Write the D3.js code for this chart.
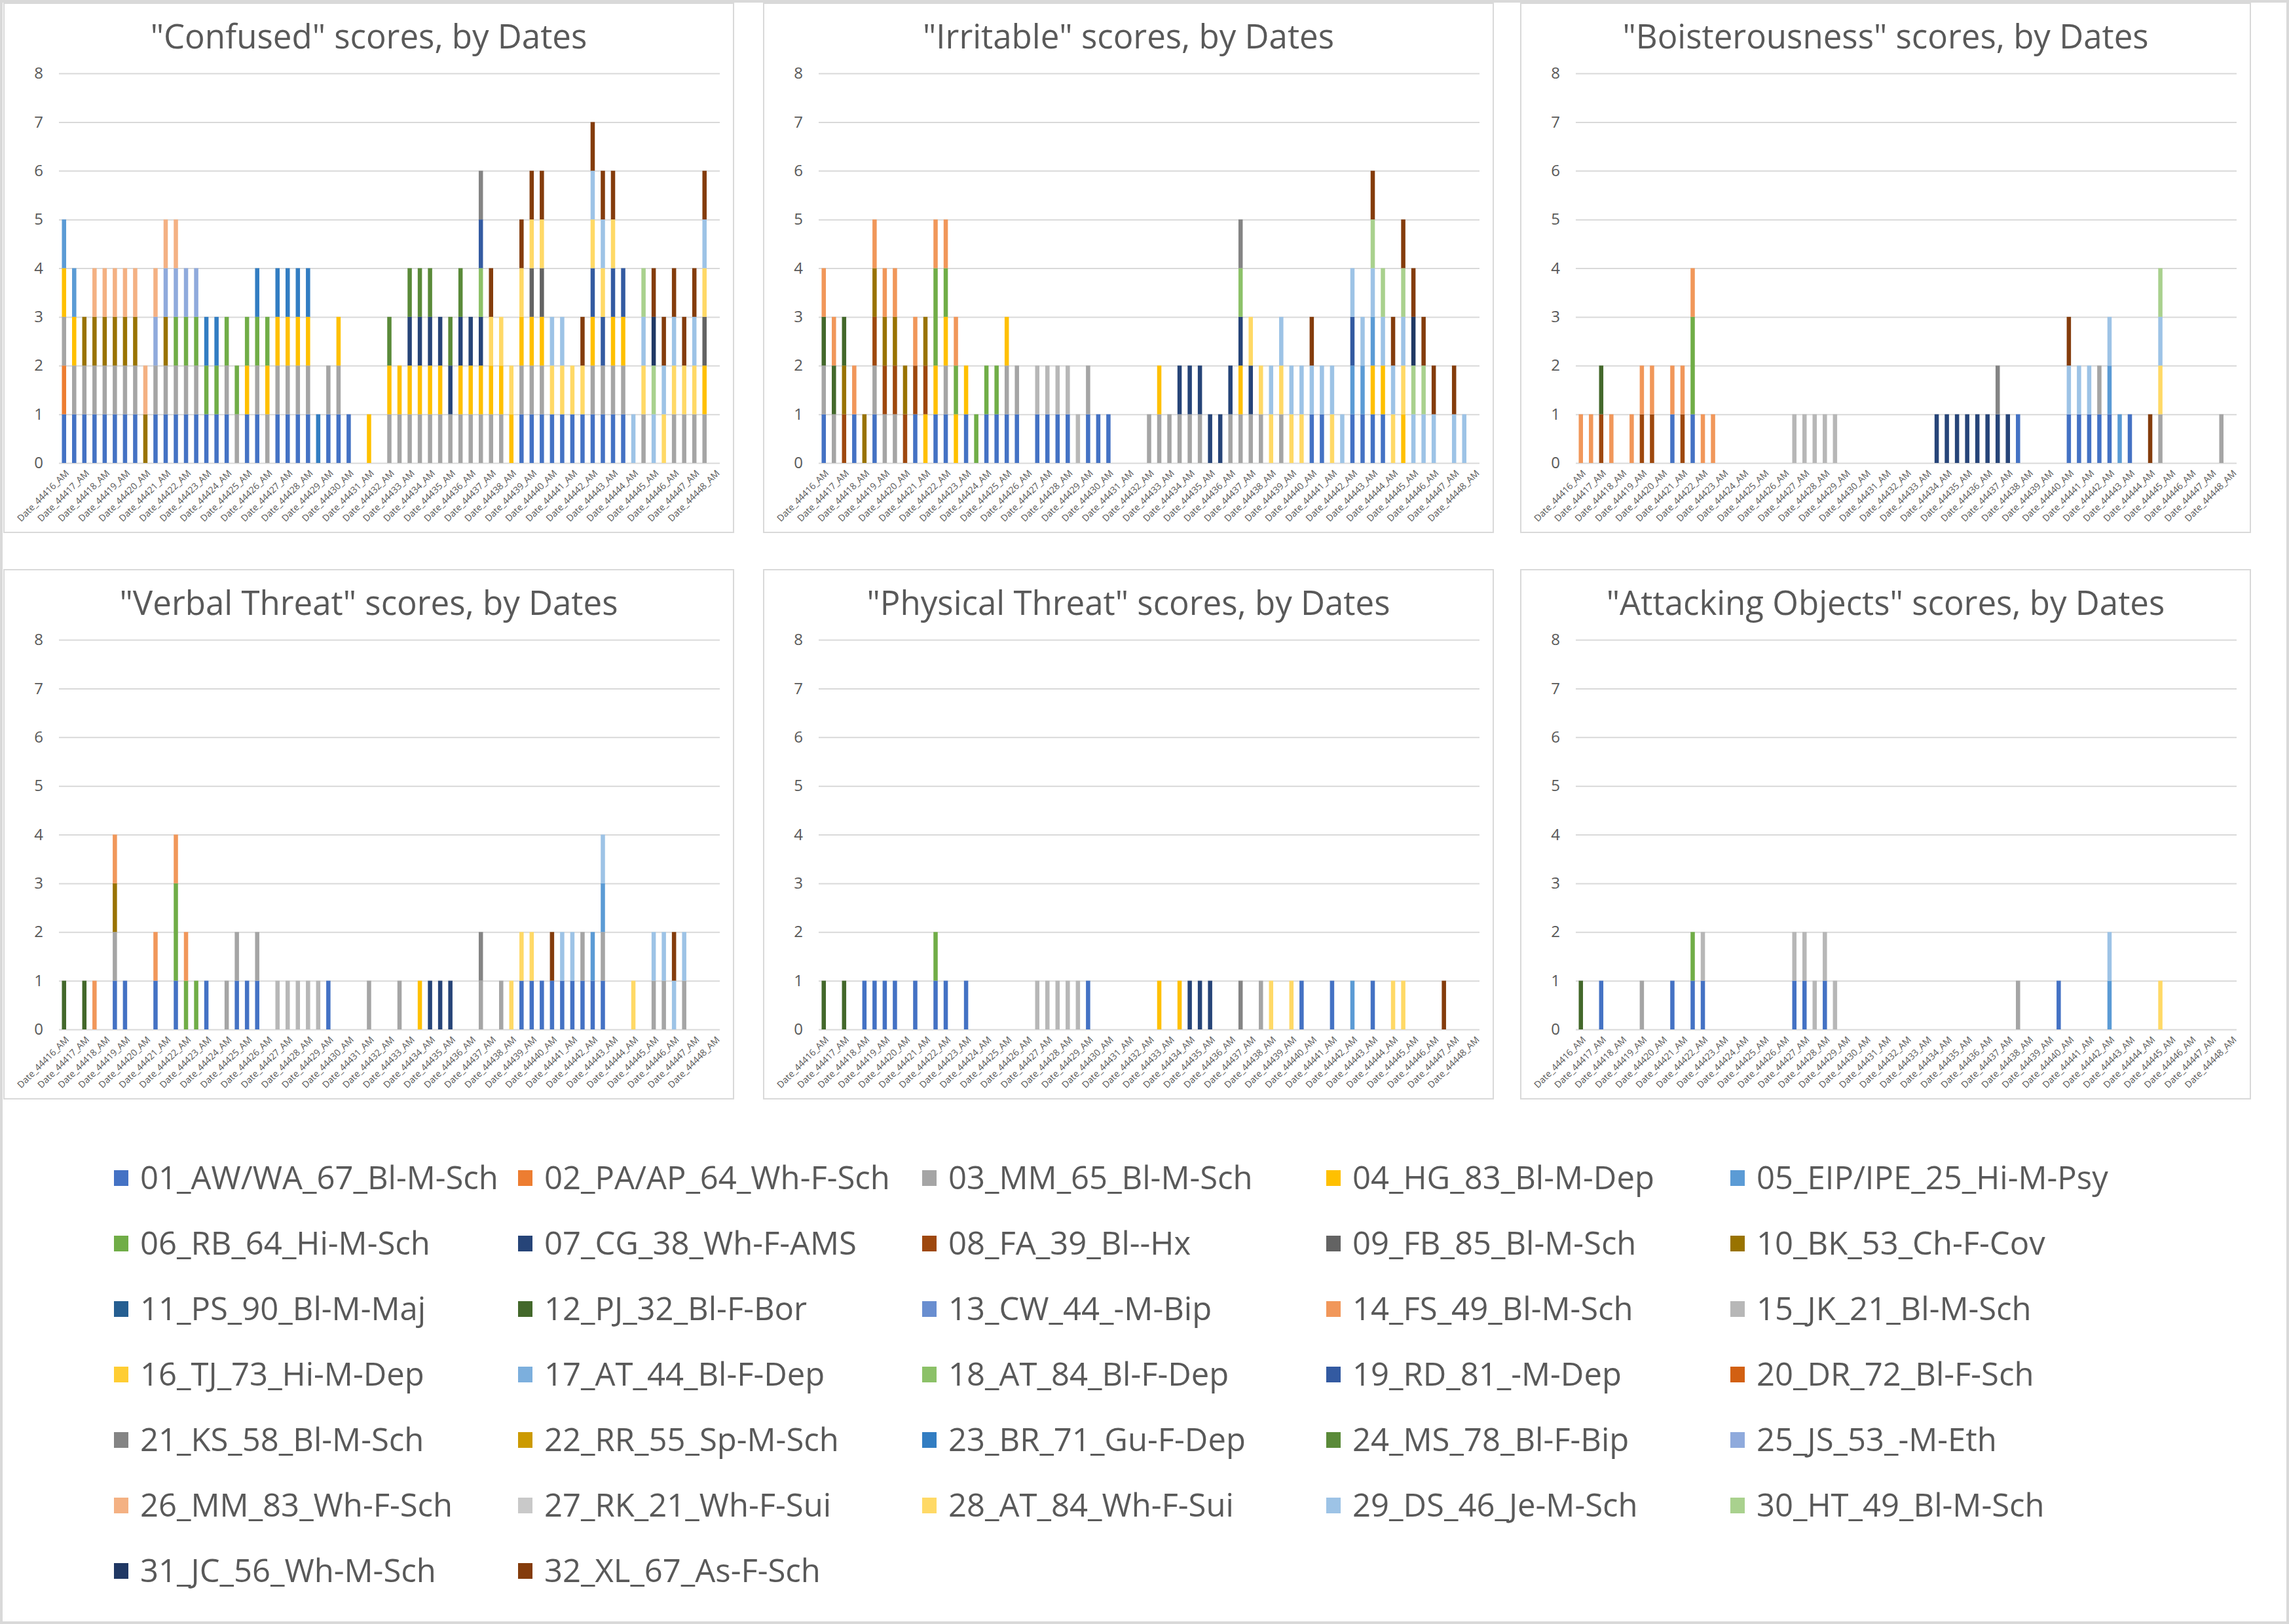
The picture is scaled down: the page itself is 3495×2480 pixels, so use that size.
<!DOCTYPE html>
<html>
<head>
<meta charset="utf-8">
<script src="https://cdn.jsdelivr.net/npm/d3@7"></script>
<style>
  body { margin: 0; background: #ffffff; }
  text { font-family: "Open Sans", "Noto Sans", sans-serif; fill: #595959; }
</style>
</head>
<body>
<div id="graf"></div>
<script>
// Fechas (cada una tiene AM y PM, la última sólo AM)
const fechas = [44416, 44417, 44418, 44419, 44420, 44421, 44422, 44423, 44424, 44425, 44426,
  44427, 44428, 44429, 44430, 44431, 44432, 44433, 44434, 44435, 44436, 44437,
  44438, 44439, 44440, 44441, 44442, 44443, 44444, 44445, 44446, 44447, 44448]

const pacientes = ['01_AW/WA_67_Bl-M-Sch', '02_PA/AP_64_Wh-F-Sch', '03_MM_65_Bl-M-Sch', '04_HG_83_Bl-M-Dep',
  '05_EIP/IPE_25_Hi-M-Psy', '06_RB_64_Hi-M-Sch', '07_CG_38_Wh-F-AMS', '08_FA_39_Bl--Hx', '09_FB_85_Bl-M-Sch',
  '10_BK_53_Ch-F-Cov', '11_PS_90_Bl-M-Maj', '12_PJ_32_Bl-F-Bor', '13_CW_44_-M-Bip', '14_FS_49_Bl-M-Sch',
  '15_JK_21_Bl-M-Sch', '16_TJ_73_Hi-M-Dep', '17_AT_44_Bl-F-Dep', '18_AT_84_Bl-F-Dep', '19_RD_81_-M-Dep',
  '20_DR_72_Bl-F-Sch', '21_KS_58_Bl-M-Sch', '22_RR_55_Sp-M-Sch', '23_BR_71_Gu-F-Dep', '24_MS_78_Bl-F-Bip',
  '25_JS_53_-M-Eth', '26_MM_83_Wh-F-Sch', '27_RK_21_Wh-F-Sui', '28_AT_84_Wh-F-Sui', '29_DS_46_Je-M-Sch',
  '30_HT_49_Bl-M-Sch', '31_JC_56_Wh-M-Sch', '32_XL_67_As-F-Sch']

const colores = ['#4472C4', '#ED7D31', '#A5A5A5', '#FFC000', '#5B9BD5', '#70AD47', '#264478', '#9E480E',
  '#636363', '#997300', '#255E91', '#43682B', '#698ED0', '#F1975A', '#B7B7B7', '#FFCD33',
  '#7CAFDD', '#8CC168', '#335AA1', '#D26012', '#848484', '#CC9A00', '#327DC2', '#5A8A39',
  '#8FAADC', '#F4B183', '#C9C9C9', '#FFD966', '#9DC3E6', '#A9D18E', '#203864', '#843C0C']

const valoresY = [0, 1, 2, 3, 4, 5, 6, 7, 8]

// Cada fecha: lista de pacientes con puntaje 1 (repetido = 2)
const confused = [
  [1,2,3,4,5],[1,3,4,5],[1,3,10],[1,3,10,26],[1,3,10,26],
  [1,3,10,26],[1,3,10,26],[1,3,10,26],[10,26],[1,3,25,26],
  [1,3,10,25,26],[1,3,6,25,26],[1,3,6,25],[1,3,6,25],[1,6,23],
  [1,6,23],[1,3,6],[3,6],[1,4,6],[1,3,6,23],
  [3,4,6],[1,3,4,23],[1,3,4,23],[1,3,4,23],[1,3,4,23],
  [23],[1,3],[1,3,4],[1],[],
  [4],[],[3,4,24],[3,4],[3,4,7,24],
  [3,4,7,24],[3,4,7,24],[3,4,7],[3,7,24],[3,4,7,24],
  [3,4,7],[3,4,7,18,19,21],[3,4,28,32],[3,4,28],[4,28],
  [1,3,4,28,32],[1,3,4,9,28,32],[1,3,4,9,28,32],[1,28,29],[1,28,29],
  [1,28],[1,28,32],[1,3,4,19,28,29,32],[1,3,19,28,29,32],[1,3,4,19,28,32],
  [1,3,4,19],[29],[3,28,29,30],[29,30,31,32],[28,29,32],
  [3,28,29,32],[3,28,32],[3,28,29,32],[3,4,9,28,29,32],[]
]

const irritable = [
  [1,3,12,14],[3,12,14],[8,10,12],[1,14],[10],
  [1,3,8,10,14],[3,8,10,14],[3,8,10,14],[8,10],[1,8,14],
  [4,8,10],[1,4,6,6,14],[1,3,4,6,14],[4,6,14],[1,4],
  [6],[1,6],[1,6],[1,3,4],[1,3],
  [],[1,15],[1,15],[1,15],[1,15],
  [15],[1,3],[1],[1],[],
  [],[],[3],[3,4],[3],
  [3,7],[3,7],[3,7],[7],[7],
  [3,7],[3,4,7,18,21],[3,7,28],[3,28],[28,29],
  [3,28,29],[28,29],[28,29],[1,29,32],[1,29],
  [28,29],[29],[1,5,19,29],[1,5,29],[1,4,5,29,30,32],
  [1,4,29,30],[28,29,32],[4,28,29,30,32],[29,30,31,32],[29,30,32],
  [29,32],[],[29,32],[29],[]
]

const boisterousness = [
  [14],[14],[8,12],[14],[],
  [14],[8,14],[8,14],[],[1,14],
  [8,14],[1,6,6,14],[14],[14],[],
  [],[],[],[],[],
  [],[15],[15],[15],[15],
  [15],[],[],[],[],
  [],[],[],[],[],
  [7],[7],[7],[7],[7],
  [7],[7,21],[7],[1],[],
  [],[],[],[1,29,32],[1,29],
  [1,29],[1,3],[1,5,29],[5],[1],
  [],[32],[3,28,29,30],[],[],
  [],[],[],[3],[]
]

const verbalThreat = [
  [12],[],[12],[14],[],
  [1,3,10,14],[1],[],[],[1,14],
  [],[1,6,6,14],[6,14],[6],[1],
  [],[3],[1,3],[1],[1,3],
  [],[15],[15],[15],[15],
  [15],[1],[],[],[],
  [3],[],[],[3],[],
  [4],[7],[7],[7],[],
  [],[3,21],[],[3],[28],
  [1,28],[1,28],[1],[1,32],[1,29],
  [1,29],[1,3],[1,5],[1,3,5,29],[],
  [],[28],[],[3,29],[3,29],
  [29,32],[3,29],[],[],[]
]

const physicalThreat = [
  [12],[],[12],[],[1],
  [1],[1],[1],[],[1],
  [],[1,6],[1],[],[1],
  [],[],[],[],[],
  [],[15],[15],[15],[15],
  [15],[1],[],[],[],
  [],[],[],[4],[],
  [4],[7],[7],[7],[],
  [],[21],[],[3],[28],
  [],[28],[1],[],[],
  [1],[],[5],[],[1],
  [],[28],[28],[],[],
  [],[32],[],[],[]
]

const attackingObjects = [
  [12],[],[1],[],[],
  [],[3],[],[],[1],
  [],[1,6],[1,15],[],[],
  [],[],[],[],[],
  [],[1,15],[1,15],[15],[1,15],
  [15],[],[],[],[],
  [],[],[],[],[],
  [],[],[],[],[],
  [],[],[],[3],[],
  [],[],[1],[],[],
  [],[],[5,29],[],[],
  [],[],[28],[],[],
  [],[],[],[],[]
]

const titulos = ['"Confused" scores, by Dates', '"Irritable" scores, by Dates', '"Boisterousness" scores, by Dates',
  '"Verbal Threat" scores, by Dates', '"Physical Threat" scores, by Dates', '"Attacking Objects" scores, by Dates']
const series = [confused, irritable, boisterousness, verbalThreat, physicalThreat, attackingObjects]

// Categorías del eje X
const categorias = []
fechas.forEach((f, i) => {
  categorias.push(`Date_${f}_AM`)
  if (i < fechas.length - 1) categorias.push(`Date_${f}_PM`)
})

// Se arma la tabla para d3.stack
function armarTabla(pilas) {
  return pilas.map((pila, i) => {
    const fila = { cat: categorias[i] }
    pacientes.forEach((p, k) => { fila[p] = pila.filter(s => s === k + 1).length })
    return fila
  })
}

function load() {
  const ancho = 3495
  const alto = 2480
  const panelX = [6, 1166, 2322]
  const panelY = [5, 870]
  const panelAncho = 1114
  const panelAlto = 808

  const svg = d3.select('#graf')
    .append('svg')
    .attr('width', ancho)
    .attr('height', alto)

  svg.append('rect')
    .attr('width', ancho).attr('height', alto)
    .attr('fill', '#ffffff')

  // Marco exterior
  svg.append('rect')
    .attr('x', 2).attr('y', 2)
    .attr('width', ancho - 4).attr('height', alto - 4)
    .attr('fill', 'none')
    .attr('stroke', '#d9d9d9')
    .attr('stroke-width', 4)

  const xScale = d3.scaleBand()
    .domain(categorias)
    .range([0, 1009])
    .paddingInner(0.58)
    .paddingOuter(0.29)

  const yScale = d3.scaleLinear()
    .domain([0, 8])
    .range([702, 107])

  const apilar = d3.stack().keys(pacientes)

  series.forEach((datos, n) => {
    const x0 = panelX[n % 3]
    const y0 = panelY[Math.floor(n / 3)]

    const g = svg.append('g')
      .attr('transform', `translate(${x0}, ${y0})`)

    g.append('rect')
      .attr('width', panelAncho)
      .attr('height', panelAlto)
      .attr('fill', '#ffffff')
      .attr('stroke', '#d9d9d9')
      .attr('stroke-width', 2)

    // Título
    g.append('text')
      .attr('x', panelAncho / 2)
      .attr('y', 69)
      .attr('text-anchor', 'middle')
      .style('font-size', '51px')
      .text(titulos[n])

    const plot = g.append('g')
      .attr('transform', 'translate(84, 0)')

    // Eje Y con líneas de cuadrícula
    const yAxis = d3.axisLeft(yScale)
      .tickValues(valoresY)
      .tickSize(-1009)
      .tickPadding(24)
      .tickFormat(d3.format('d'))

    const ejeY = plot.append('g').call(yAxis)
    ejeY.select('.domain').remove()
    ejeY.selectAll('line').attr('stroke', '#d9d9d9').attr('stroke-width', 2)
    ejeY.selectAll('text').style('font-size', '24px').attr('fill', '#595959')

    // Barras apiladas
    const pilas = apilar(armarTabla(datos))
    plot.append('g')
      .selectAll('g')
      .data(pilas)
      .enter()
      .append('g')
      .attr('fill', (d, i) => colores[i])
      .selectAll('rect')
      .data(d => d.filter(v => v[1] > v[0]))
      .enter()
      .append('rect')
      .attr('x', d => xScale(d.data.cat))
      .attr('y', d => yScale(d[1]))
      .attr('width', xScale.bandwidth())
      .attr('height', d => yScale(d[0]) - yScale(d[1]))

    // Eje X
    const xAxis = d3.axisBottom(xScale)
      .tickValues(categorias.filter((c, i) => i % 2 === 0))
      .tickSize(0)

    const ejeX = plot.append('g')
      .attr('transform', `translate(0, ${yScale(0)})`)
      .call(xAxis)
    ejeX.select('.domain').remove()
    ejeX.selectAll('text')
      .attr('x', 0)
      .attr('y', 0)
      .attr('dy', '0.35em')
      .attr('transform', 'translate(5, 13) rotate(-45)')
      .attr('text-anchor', 'end')
      .attr('fill', '#595959')
      .style('font-size', '14px')
  })

  // Leyenda
  const leyenda = svg.append('g')
  pacientes.forEach((p, i) => {
    const col = i % 5
    const fila = Math.floor(i / 5)
    const lx = 214 + col * 617
    const ly = 1799 + fila * 100
    leyenda.append('rect')
      .attr('x', lx - 40)
      .attr('y', ly - 12)
      .attr('width', 22)
      .attr('height', 24)
      .attr('fill', colores[i])
    leyenda.append('text')
      .attr('x', lx)
      .attr('y', ly)
      .attr('dy', '0.35em')
      .style('font-size', '49px')
      .text(p)
  })
}

load()
</script>
</body>
</html>
